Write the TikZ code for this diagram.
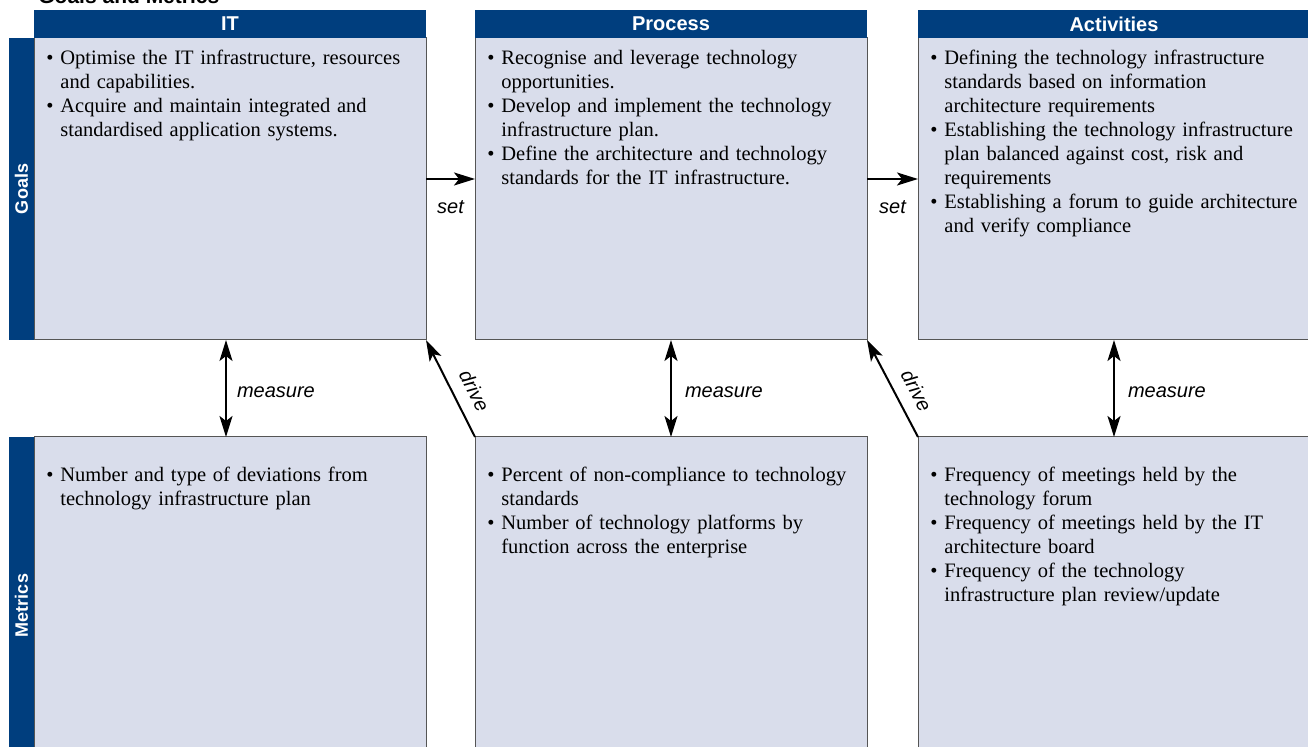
\documentclass[tikz,border=0pt]{standalone}
\usepackage{fontspec}
\setmainfont{Liberation Serif}
\setsansfont{Liberation Sans}
\usetikzlibrary{positioning,arrows.meta,calc}

\definecolor{navy}{HTML}{003E7E}
\definecolor{boxfill}{HTML}{D9DDEB}
\definecolor{boxline}{HTML}{555555}

% bullet item with hanging indent
\newcommand\bul[1]{\par\setbox0=\hbox{\textbullet\ }\hangindent=\wd0 \hangafter=1
  \noindent\rule{0pt}{7pt}\box0 #1\par}

\begin{document}
\begin{tikzpicture}[
  x=0.5pt, y=-0.5pt,
  >={Stealth[length=10.5pt, width=6.5pt, inset=2.5pt]},
  box/.style={draw=boxline, line width=0.5pt, fill=boxfill, inner sep=0pt,
              outer sep=0pt, minimum width=196pt},
  goal/.style={box, minimum height=151pt},
  metric/.style={box, minimum height=166.5pt},
  head/.style={fill=navy, text=white, inner sep=0pt, outer sep=0pt,
               minimum width=196pt, minimum height=14pt,
               font=\sffamily\bfseries\fontsize{10}{12}\selectfont},
  side/.style={fill=navy, inner sep=0pt, outer sep=0pt, minimum width=12.5pt},
  sidelbl/.style={text=white, rotate=90, inner sep=0pt,
                  font=\sffamily\bfseries\fontsize{9}{11}\selectfont},
  body/.style={anchor=north west, inner sep=0pt, text width=190pt, align=left,
               font=\fontsize{10.25}{12}\selectfont},
  arr/.style={->, line width=1pt},
  darr/.style={<->, line width=1pt},
  lbl/.style={inner sep=0pt, font=\sffamily\itshape\fontsize{10}{12}\selectfont}
]
\useasboundingbox (0,0) rectangle (1308,747);

\node[anchor=base west, inner sep=0pt,
      font=\sffamily\bfseries\fontsize{10.5}{12}\selectfont] (title) at (38,4) {Goals and Metrics};

% goal row
\node[goal] (git) at (230,189) {};
\node[goal] (gproc) at (671,189) {};
\node[goal] (gact) at (1114,189) {};

% metric row
\node[metric] (mit) at (230,603.5) {};
\node[metric] (mproc) at (671,603.5) {};
\node[metric] (mact) at (1114,603.5) {};

\node[head, above=0pt of git] (hit) {IT};
\node[head, above=0pt of gproc] (hproc) {Process};
\node[head, above=0pt of gact] (hact) {Activities};

\node[side, minimum height=151pt, left=0pt of git] (sgoal) {};
\node[sidelbl] at (sgoal) {Goals};
\node[side, minimum height=166.5pt, left=0pt of mit] (smetric) {};
\node[sidelbl] at ([yshift=-1pt]smetric) {Metrics};

% texts
\node[body] (tgit) at ($(git.north west)+(12,2)$) {%
  \bul{Optimise the IT infrastructure, resources\newline and capabilities.}
  \bul{Acquire and maintain integrated and\newline standardised application systems.}};
\node[body] (tgproc) at ($(gproc.north west)+(12,2)$) {%
  \bul{Recognise and leverage technology\newline opportunities.}
  \bul{Develop and implement the technology\newline infrastructure plan.}
  \bul{Define the architecture and technology\newline standards for the IT infrastructure.}};
\node[body] (tgact) at ($(gact.north west)+(12,2)$) {%
  \bul{Defining the technology infrastructure\newline standards based on information\newline architecture requirements}
  \bul{Establishing the technology infrastructure\newline plan balanced against cost, risk and\newline requirements}
  \bul{Establishing a forum to guide architecture\newline and verify compliance}};

\node[body] (tmit) at ($(mit.north west)+(12,20)$) {%
  \bul{Number and type of deviations from\newline technology infrastructure plan}};
\node[body] (tmproc) at ($(mproc.north west)+(12,20)$) {%
  \bul{Percent of non-compliance to technology\newline standards}
  \bul{Number of technology platforms by\newline function across the enterprise}};
\node[body] (tmact) at ($(mact.north west)+(12,20)$) {%
  \bul{Frequency of meetings held by the\newline technology forum}
  \bul{Frequency of meetings held by the IT\newline architecture board}
  \bul{Frequency of the technology\newline infrastructure plan review/update}};

% connectors
\draw[arr] ([yshift=5pt]git.east) -- node[lbl, below=10.5pt] {set} ([yshift=5pt]gproc.west);
\draw[arr] ([yshift=5pt]gproc.east) -- node[lbl, below=10.5pt] {set} ([yshift=5pt]gact.west);

\draw[darr] ([xshift=-2pt]git.south) -- node[lbl, right=5pt, yshift=-2pt] {measure} ([xshift=-2pt]mit.north);
\draw[darr] (gproc.south) -- node[lbl, right=6.5pt, yshift=-2pt] {measure} (mproc.north);
\draw[darr] (gact.south) -- node[lbl, right=6.5pt, yshift=-2pt] {measure} (mact.north);

\draw[arr] (mproc.north west) -- node[lbl, sloped, above=6pt, pos=.38] {drive} (git.south east);
\draw[arr] (mact.north west) -- node[lbl, sloped, above=6pt, pos=.38] {drive} (gproc.south east);
\end{tikzpicture}
\end{document}
